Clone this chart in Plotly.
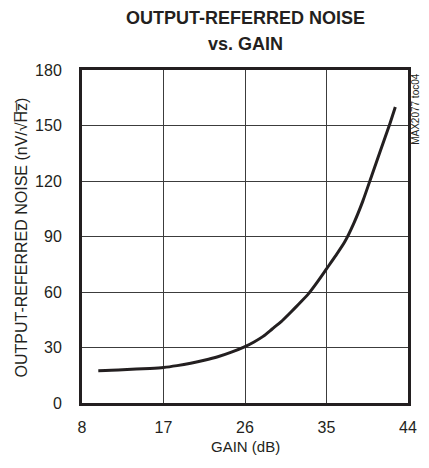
import plotly.graph_objects as go

gain_db = [9.8, 12, 14, 15.5, 17, 18.5, 20, 21.5, 23, 24.5, 26, 27, 28, 29, 30, 31, 32, 33,
           34, 35, 36, 37, 38, 39, 40, 41, 42, 42.6]
noise_nv = [17.5, 17.8, 18.4, 18.7, 19.2, 20.2, 21.5, 23.1, 25.0, 27.5, 30.5, 33.0, 36.0, 40.0,
            44.0, 48.8, 53.8, 59.0, 65.5, 72.5, 79.5, 87.0, 97.0, 109.0, 123.0, 137.0, 151.0, 160.0]

x_ticks = [8, 17, 26, 35, 44]
y_ticks = [0, 30, 60, 90, 120, 150, 180]

FONT = "Liberation Sans Narrow, Arial Narrow, Liberation Sans, Arial"
INK = "#231f20"

# target plot area in page pixels; the page body has an 8px margin
PL, PR, PT, PB = 82, 416, 70, 403
OFF = 8
W, H = 429 - OFF, 468 - 2 * OFF


def px_to_paper_x(px):
    return (px - PL) / (PR - PL)


def px_to_paper_y(py):
    return (PB - py) / (PB - PT)


fig = go.Figure()
fig.add_trace(go.Scatter(x=gain_db, y=noise_nv, mode="lines",
                         line=dict(color=INK, width=3, shape="spline", smoothing=0.6),
                         showlegend=False, hoverinfo="skip"))

fig.update_layout(
    width=W, height=H,
    margin=dict(l=PL - OFF, r=(W + OFF) - PR, t=PT - OFF, b=(H + OFF) - PB, pad=0),
    paper_bgcolor="white", plot_bgcolor="white",
    font=dict(family=FONT, color=INK, size=16),
)
fig.update_xaxes(range=[8, 44], tickvals=x_ticks, ticktext=[str(v) for v in x_ticks],
                 showgrid=True, gridcolor="#3c3c3c", gridwidth=1,
                 showline=True, linecolor=INK, linewidth=3, mirror=True,
                 ticks="", zeroline=False, ticklabelstandoff=8,
                 tickfont=dict(size=16))
fig.update_yaxes(range=[0, 180], tickvals=y_ticks, ticktext=[str(v) for v in y_ticks],
                 showgrid=True, gridcolor="#3c3c3c", gridwidth=1,
                 showline=True, linecolor=INK, linewidth=3, mirror=True,
                 ticks="", zeroline=False, ticklabelstandoff=14,
                 tickfont=dict(size=16))

ann_font = dict(family=FONT, color=INK)
fig.add_annotation(text="<b>OUTPUT-REFERRED NOISE</b>", xref="paper", yref="paper",
                   x=px_to_paper_x(249), y=px_to_paper_y(17.5), xanchor="center", yanchor="middle",
                   showarrow=False, font=dict(size=18, **ann_font))
fig.add_annotation(text="<b>vs. GAIN</b>", xref="paper", yref="paper",
                   x=px_to_paper_x(249), y=px_to_paper_y(43.5), xanchor="center", yanchor="middle",
                   showarrow=False, font=dict(size=18, **ann_font))
fig.add_annotation(text="GAIN (dB)", xref="paper", yref="paper",
                   x=px_to_paper_x(249), y=px_to_paper_y(447), xanchor="center", yanchor="middle",
                   showarrow=False, font=dict(size=15, **ann_font))
fig.add_annotation(text="OUTPUT-REFERRED NOISE (nV/√H̅z̅)", xref="paper", yref="paper",
                   x=px_to_paper_x(20), y=px_to_paper_y(237), xanchor="center", yanchor="middle",
                   textangle=-90, showarrow=False, font=dict(size=16, **ann_font))
fig.add_annotation(text="MAX2077 toc04", xref="paper", yref="paper",
                   x=px_to_paper_x(423), y=px_to_paper_y(71), xanchor="center", yanchor="top",
                   textangle=-90, showarrow=False,
                   font=dict(size=10, family="Liberation Sans, Arial", color=INK))

fig.write_html("out.html")
